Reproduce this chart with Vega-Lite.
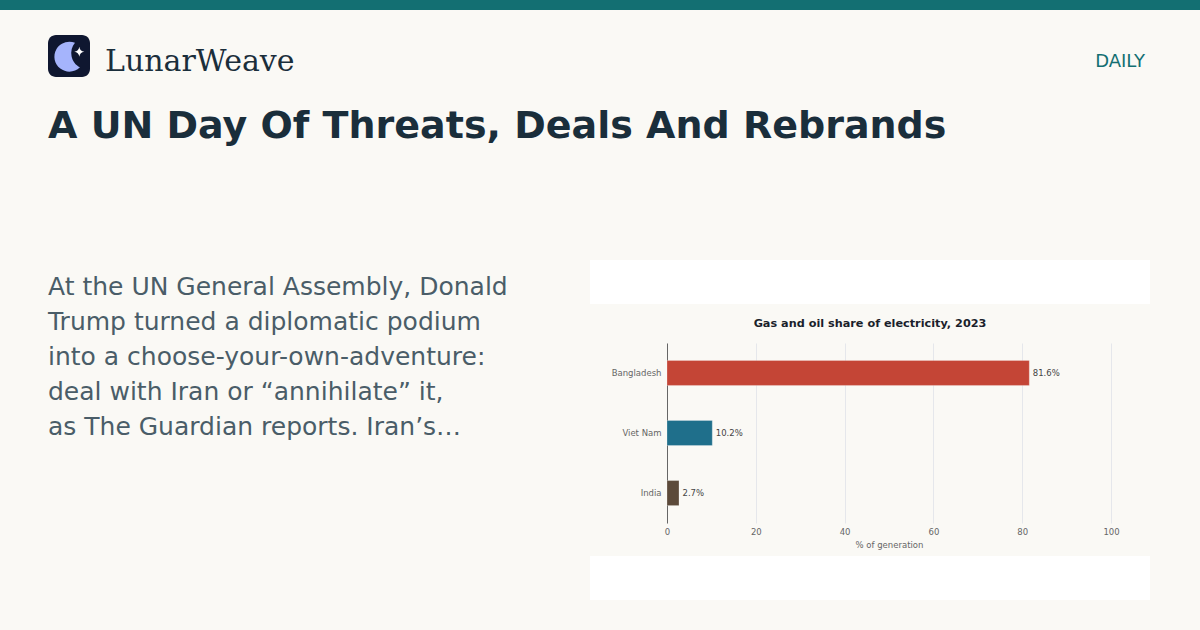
{
  "$schema": "https://vega.github.io/schema/vega-lite/v6.json",
  "width": 444,
  "height": 180,
  "padding": {"left": 667, "top": 343, "right": 89, "bottom": 107},
  "autosize": "none",
  "background": "#faf9f5",
  "config": {"view": {"stroke": null}, "font": "DejaVu Sans"},
  "datasets": {
    "shares": [
      {"country": "Bangladesh", "share": 81.6, "label": "81.6%"},
      {"country": "Viet Nam", "share": 10.2, "label": "10.2%"},
      {"country": "India", "share": 2.7, "label": "2.7%"}
    ],
    "one": [{"n": 1}],
    "body": [
      {"line": "At the UN General Assembly, Donald", "order": 0},
      {"line": "Trump turned a diplomatic podium", "order": 1},
      {"line": "into a choose-your-own-adventure:", "order": 2},
      {"line": "deal with Iran or “annihilate” it,", "order": 3},
      {"line": "as The Guardian reports. Iran’s…", "order": 4}
    ]
  },
  "layer": [
    {"data": {"name": "one"}, "mark": {"type": "rect", "clip": false, "x": -667, "x2": 533, "y": -343, "y2": -333, "color": "#136f72"}, "encoding": {}},
    {"data": {"name": "one"}, "mark": {"type": "rect", "x": -77, "x2": 483, "y": -83, "y2": -39, "color": "#ffffff"}, "encoding": {}},
    {"data": {"name": "one"}, "mark": {"type": "rect", "x": -77, "x2": 483, "y": 213, "y2": 257, "color": "#ffffff"}, "encoding": {}},
    {"data": {"name": "one"}, "mark": {"type": "rect", "x": -619, "x2": -577, "y": -308, "y2": -266, "cornerRadius": 8, "color": "#0f1730"}, "encoding": {}},
    {"data": {"name": "one"}, "mark": {"type": "point", "x": -598, "y": -286, "filled": true, "size": 900, "opacity": 1, "color": "#a5b4fc", "shape": "M0.4 -0.95 A1 1 0 1 0 0.73 0.69 A1.07 1.07 0 0 1 0.4 -0.95 Z"}, "encoding": {}},
    {"data": {"name": "one"}, "mark": {"type": "point", "x": -587.7, "y": -291.3, "filled": true, "size": 100, "opacity": 1, "color": "#ffffff", "shape": "M0 -1 Q0.12 -0.12 1 0 Q0.12 0.12 0 1 Q-0.12 0.12 -1 0 Q-0.12 -0.12 0 -1 Z"}, "encoding": {}},
    {"data": {"name": "one"}, "mark": {"type": "text", "text": "LunarWeave", "x": -562, "y": -272, "align": "left", "baseline": "alphabetic", "font": "DejaVu Serif", "fontSize": 30, "color": "#1a2e3b"}, "encoding": {}},
    {"data": {"name": "one"}, "mark": {"type": "text", "text": "DAILY", "x": 478, "y": -276, "align": "right", "baseline": "alphabetic", "fontSize": 18, "color": "#136f72"}, "encoding": {}},
    {"data": {"name": "one"}, "mark": {"type": "text", "text": "A UN Day Of Threats, Deals And Rebrands", "x": -619, "y": -205, "align": "left", "baseline": "alphabetic", "fontSize": 38, "fontWeight": "bold", "color": "#1a2e3b"}, "encoding": {}},
    {"data": {"name": "one"}, "mark": {"type": "text", "text": "Gas and oil share of electricity, 2023", "x": 203, "y": -16, "align": "center", "baseline": "alphabetic", "fontSize": 11.25, "fontWeight": "bold", "color": "#1a1f2b"}, "encoding": {}},
    {
      "data": {"name": "body"},
      "mark": {"type": "text", "align": "left", "baseline": "alphabetic", "fontSize": 25, "color": "#4a5d68", "x": -619},
      "encoding": {
        "y": {"field": "order", "type": "quantitative", "scale": {"domain": [0, 4], "range": [-48, 92]}, "axis": null},
        "text": {"field": "line"}
      }
    },
    {
      "data": {"name": "shares"},
      "mark": {"type": "bar", "stroke": "#ffffff", "strokeWidth": 0.5, "strokeOpacity": 0.5},
      "encoding": {
        "x": {
          "field": "share",
          "type": "quantitative",
          "scale": {"domain": [0, 100], "nice": false},
          "title": "% of generation",
          "axis": {
            "values": [0, 20, 40, 60, 80, 100],
            "domain": false,
            "ticks": false,
            "grid": true,
            "gridColor": "#e5e7eb",
            "gridWidth": 1,
            "labelFlush": false,
            "labelFontSize": 8.5,
            "labelColor": "#666666",
            "labelPadding": 4,
            "titleFontSize": 8.5,
            "titleFontWeight": "normal",
            "titleColor": "#666666",
            "titlePadding": 5
          }
        },
        "y": {
          "field": "country",
          "type": "nominal",
          "sort": null,
          "scale": {"paddingInner": 0.583, "paddingOuter": 0.29},
          "title": null,
          "axis": {
            "domain": true,
            "domainColor": "#666666",
            "domainWidth": 1,
            "ticks": false,
            "labelFontSize": 8.5,
            "labelColor": "#666666",
            "labelPadding": 6
          }
        },
        "color": {
          "field": "country",
          "type": "nominal",
          "scale": {"domain": ["Bangladesh", "Viet Nam", "India"], "range": ["#c44536", "#1f6f8b", "#5c4a3a"]},
          "legend": null
        }
      }
    },
    {
      "data": {"name": "shares"},
      "mark": {"type": "text", "align": "left", "baseline": "middle", "dx": 3.5, "fontSize": 8.5, "color": "#444444"},
      "encoding": {
        "x": {"field": "share", "type": "quantitative"},
        "y": {"field": "country", "type": "nominal", "sort": null, "scale": {"paddingInner": 0.583, "paddingOuter": 0.29}, "axis": null},
        "text": {"field": "label"}
      }
    }
  ]
}
